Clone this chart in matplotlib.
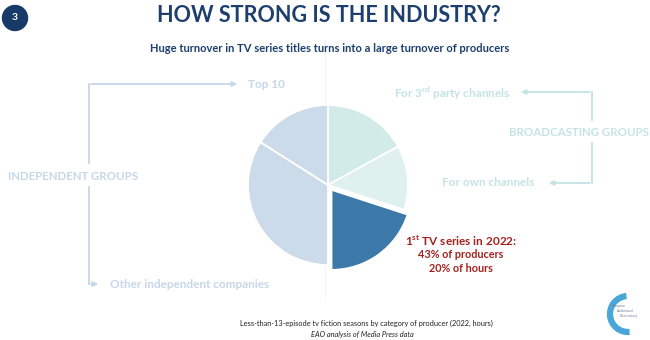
import matplotlib
matplotlib.use("Agg")
import matplotlib.pyplot as plt
from matplotlib.patches import Circle, Arc, FancyArrowPatch

# ---- data ----
categories = ["For 3rd party channels", "For own channels", "1st TV series in 2022",
              "Other independent companies", "Top 10"]
shares = [17, 13, 20, 34, 16]
colors = ["#d2ebe8", "#def1ef", "#3c78a8", "#cbdbe9", "#cbdbe9"]
explode = [0, 0, 6, 0, 0]

title = "HOW STRONG IS THE INDUSTRY?"
subtitle = "Huge turnover in TV series titles turns into a large turnover of producers"
highlight = ["1$^{\\mathregular{st}}$ TV series in 2022:", "43% of producers", "20% of hours"]
footer1 = "Less-than-13-episode tv fiction seasons by category of producer (2022, hours)"
footer2 = "EAO analysis of Media Press data"

W, H = 650, 340
fig = plt.figure(figsize=(W / 100, H / 100), dpi=100)
ax = fig.add_axes([0, 0, 1, 1])

def Y(y):
    return H - y

FONT = ["Lato", "DejaVu Sans"]
NAVY = "#1d3f6e"
BLUE_L = "#c6d7e8"
TEAL_L = "#c4e4e3"
RED = "#a3221f"

# faint vertical divider
ax.plot([325, 325], [Y(40), Y(300)], color="#f4f4f4", lw=0.7, zorder=0)

# pie
ax.pie(shares, colors=colors, explode=explode, startangle=90, counterclock=False,
       center=(328, Y(185)), radius=80,
       wedgeprops=dict(edgecolor="white", linewidth=1.3), frame=True)
ax.set_xlim(0, W)
ax.set_ylim(0, H)
ax.set_aspect("equal")
ax.axis("off")

# badge
ax.add_patch(Circle((15, Y(18)), 12.5, color="#173a68", zorder=5))
ax.text(15, Y(18), "3", color="white", fontsize=7.5, fontweight="bold",
        ha="center", va="center", family=FONT, zorder=6)

# titles
ax.text(329, Y(16), title, color=NAVY, fontsize=15.5, fontweight="bold",
        ha="center", va="center", family=FONT)
ax.text(330, Y(49), subtitle, color=NAVY, fontsize=8.0, fontweight="bold",
        ha="center", va="center", family=FONT)

# left bracket (independent groups)
lw = 1.3
ax.plot([89, 89], [Y(84), Y(163)], color=BLUE_L, lw=lw)
ax.plot([89, 89], [Y(187), Y(284)], color=BLUE_L, lw=lw)
ax.add_patch(FancyArrowPatch((88.4, Y(84)), (240, Y(84)), arrowstyle="-|>",
                             mutation_scale=7, color=BLUE_L, lw=lw))
ax.add_patch(FancyArrowPatch((88.4, Y(284)), (101, Y(284)), arrowstyle="-|>",
                             mutation_scale=7, color=BLUE_L, lw=lw))
ax.text(73, Y(176), "INDEPENDENT GROUPS", color=BLUE_L, fontsize=8.3,
        fontweight="bold", ha="center", va="center", family=FONT)
ax.text(248, Y(84), "Top 10", color=BLUE_L, fontsize=8.5, fontweight="bold",
        ha="left", va="center", family=FONT)
ax.text(110, Y(284), "Other independent companies", color=BLUE_L, fontsize=8.5,
        fontweight="bold", ha="left", va="center", family=FONT)

# right bracket (broadcasting groups)
ax.plot([592, 592], [Y(92), Y(120)], color=TEAL_L, lw=lw)
ax.plot([592, 592], [Y(143), Y(183)], color=TEAL_L, lw=lw)
ax.add_patch(FancyArrowPatch((592.6, Y(92)), (518, Y(92)), arrowstyle="-|>",
                             mutation_scale=7, color=TEAL_L, lw=lw))
ax.add_patch(FancyArrowPatch((592.6, Y(183)), (546, Y(183)), arrowstyle="-|>",
                             mutation_scale=7, color=TEAL_L, lw=lw))
ax.text(579, Y(132), "BROADCASTING GROUPS", color=TEAL_L, fontsize=8.3,
        fontweight="bold", ha="center", va="center", family=FONT)
ax.text(510, Y(93), "For 3$^{\\mathregular{rd}}$ party channels", color=TEAL_L,
        fontsize=8.5, fontweight="bold", ha="right", va="center", family=FONT)
ax.text(534, Y(183), "For own channels", color=TEAL_L, fontsize=8.5,
        fontweight="bold", ha="right", va="center", family=FONT)

# highlight text
ax.text(461, Y(241), highlight[0], color=RED, fontsize=8.5, fontweight="bold",
        ha="center", va="center", family=FONT)
ax.text(461, Y(255), highlight[1], color=RED, fontsize=7.8, fontweight="bold",
        ha="center", va="center", family=FONT)
ax.text(461, Y(269), highlight[2], color=RED, fontsize=7.8, fontweight="bold",
        ha="center", va="center", family=FONT)

# footer
ax.text(366, Y(323), footer1, color="#222222", fontsize=5.3,
        ha="center", va="center", family=FONT)
ax.text(362, Y(334), footer2, color="#222222", fontsize=5.3, style="italic",
        ha="center", va="center", family=FONT)

# logo
ax.add_patch(Arc((628, Y(314)), 36, 36, theta1=95, theta2=275, color="#4aa6d8", lw=4.5))
ax.text(612, Y(306), "European", fontsize=2.3, color="#6a7f99", family=FONT, va="center")
ax.text(617, Y(311), "Audiovisual", fontsize=2.3, color="#6a7f99", family=FONT, va="center")
ax.text(620, Y(316), "Observatory", fontsize=2.3, color="#6a7f99", family=FONT, va="center")

fig.savefig("out.png", dpi=100, facecolor="white")
